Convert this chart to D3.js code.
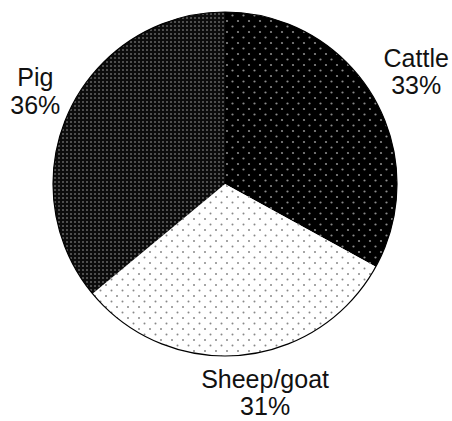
<!DOCTYPE html>
<html>
<head>
<meta charset="utf-8">
<script src="https://cdn.jsdelivr.net/npm/d3@7"></script>
<style>
html,body{margin:0;padding:0;background:#fff;}
svg{display:block;}
</style>
</head>
<body>
<svg id="chart" width="452" height="421"></svg>
<script>
const categories = ["Cattle", "Sheep/goat", "Pig"];
const values = [33, 31, 36];
const labels = ["33%", "31%", "36%"];

const W = 452, H = 421;
const cx = 225, cy = 184, R = 172;
const svg = d3.select("#chart");
const defs = svg.append("defs");

// patterns
const pC = defs.append("pattern").attr("id","pCattle").attr("patternUnits","userSpaceOnUse")
  .attr("width",11).attr("height",11);
pC.append("rect").attr("width",11).attr("height",11).attr("fill","#000");
pC.append("circle").attr("cx",2).attr("cy",2).attr("r",1.1).attr("fill","#8a8a8a");
pC.append("circle").attr("cx",7.5).attr("cy",7.5).attr("r",1.1).attr("fill","#8a8a8a");

const pS = defs.append("pattern").attr("id","pSheep").attr("patternUnits","userSpaceOnUse")
  .attr("width",11).attr("height",11);
pS.append("rect").attr("width",11).attr("height",11).attr("fill","#fff");
pS.append("circle").attr("cx",2).attr("cy",2).attr("r",1.0).attr("fill","#888");
pS.append("circle").attr("cx",7.5).attr("cy",7.5).attr("r",1.0).attr("fill","#888");

const pP = defs.append("pattern").attr("id","pPig").attr("patternUnits","userSpaceOnUse")
  .attr("width",4).attr("height",4);
pP.append("rect").attr("width",4).attr("height",4).attr("fill","#0c0c0c");
pP.append("rect").attr("x",1).attr("y",1).attr("width",2).attr("height",2).attr("fill","#4e4e4e");

const fills = {"Cattle":"url(#pCattle)","Sheep/goat":"url(#pSheep)","Pig":"url(#pPig)"};

const data = categories.map((c,i)=>({cat:c, value:values[i], label:labels[i]}));
const pie = d3.pie().value(d=>d.value).sort(null);
const arcs = pie(data);
const arc = d3.arc().innerRadius(0).outerRadius(R);

const g = svg.append("g").attr("transform",`translate(${cx},${cy})`);
g.selectAll("path.slice").data(arcs).enter().append("path")
  .attr("class","slice")
  .attr("d",arc)
  .attr("fill",d=>fills[d.data.cat])
  .attr("stroke","none");
g.append("circle").attr("r",R).attr("fill","none").attr("stroke","#000").attr("stroke-width",1.2);

// label layout (angle nudge in radians, radius)
const labelLayout = {"Cattle":{da:0.033,r:218},"Sheep/goat":{da:-0.089,r:220},"Pig":{da:-0.017,r:208}};
const lab = g.selectAll("text.lab").data(arcs).enter().append("text")
  .attr("class","lab")
  .attr("text-anchor","middle")
  .attr("font-family","'Liberation Sans', Arial, sans-serif")
  .attr("font-size",25)
  .attr("fill","#111")
  .attr("transform",d=>{
    const L = labelLayout[d.data.cat];
    const a = (d.startAngle+d.endAngle)/2 + L.da;
    const x = L.r*Math.sin(a), y = -L.r*Math.cos(a);
    return `translate(${x},${y})`;
  });
lab.append("tspan").attr("x",0).attr("dy","-0.5em").text(d=>d.data.cat);
lab.append("tspan").attr("x",0).attr("dy","1.1em").text(d=>d.data.label);
</script>
</body>
</html>
